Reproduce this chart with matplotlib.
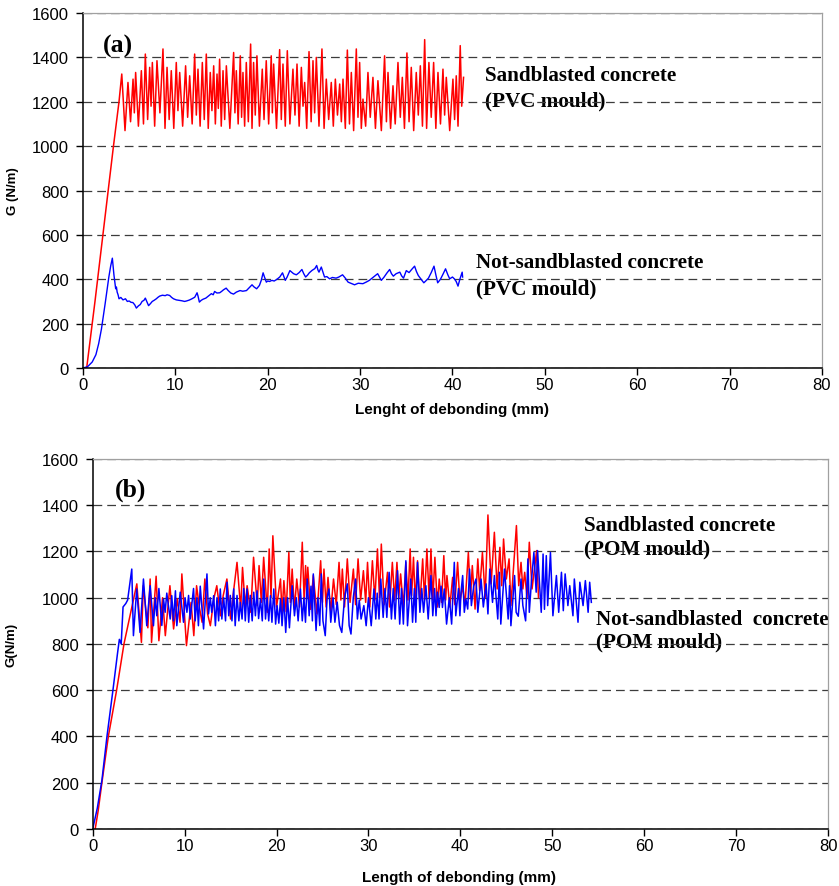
import matplotlib
matplotlib.use("Agg")
import matplotlib.pyplot as plt

plt.rcParams['font.family'] = ['Liberation Sans', 'DejaVu Sans']

# ---- (a) PVC mould ----
a_red_x = [
    0.4, 1.3, 2.3, 3.3, 3.9, 4.2,
    4.55, 4.87, 5.15, 5.42, 5.56, 5.70, 6.0, 6.32, 6.55, 6.75,
    7.0, 7.22, 7.37, 7.51, 7.76, 8.01, 8.33, 8.66, 8.88, 9.10,
    9.33, 9.56, 9.83, 10.10, 10.28, 10.47, 10.79, 11.11, 11.33, 11.55,
    11.82, 12.09, 12.27, 12.45, 12.68, 12.92, 13.13, 13.35, 13.56, 13.78,
    13.96, 14.15, 14.33, 14.51, 14.65, 14.79, 14.97, 15.16, 15.34, 15.52,
    15.9, 16.31, 16.45, 16.60, 16.8, 17.03, 17.17, 17.32, 17.5, 17.68,
    17.9, 18.15, 18.3, 18.47, 18.65, 18.83, 19.1, 19.41, 19.6, 19.84,
    20.1, 20.38, 20.5, 20.64, 20.95, 21.29, 21.47, 21.65, 21.9, 22.12,
    22.4, 22.73, 22.95, 23.17, 23.4, 23.64, 23.82, 24.0, 24.22, 24.47,
    24.7, 24.9, 25.08, 25.26, 25.55, 25.87, 26.1, 26.34, 26.6, 26.88,
    27.1, 27.32, 27.55, 27.79, 27.97, 28.15, 28.4, 28.62, 28.85, 29.05,
    29.3, 29.59, 29.77, 29.95, 30.13, 30.31, 30.6, 30.85, 31.1, 31.39,
    31.66, 31.93, 32.3, 32.65, 32.85, 33.02, 33.3, 33.56, 33.8, 34.1,
    34.35, 34.57, 34.8, 35.07, 35.3, 35.54, 35.8, 36.08, 36.3, 36.52,
    36.75, 36.99, 37.2, 37.45, 37.7, 37.96, 38.2, 38.43, 38.7, 38.97,
    39.15, 39.33, 39.7, 40.05, 40.23, 40.41, 40.6, 40.84, 41.0, 41.2]
a_red_y = [
    0, 300, 650, 1000, 1200, 1325,
    1070, 1287, 1110, 1302, 1150, 1332, 1090, 1340, 1100, 1415,
    1120, 1355, 1180, 1377, 1090, 1385, 1150, 1438, 1080, 1355,
    1120, 1340, 1080, 1377, 1160, 1332, 1090, 1362, 1130, 1317,
    1100, 1415, 1140, 1347, 1090, 1377, 1120, 1415, 1080, 1332,
    1160, 1362, 1100, 1325, 1170, 1392, 1090, 1340, 1120, 1362,
    1080, 1422, 1150, 1340, 1100, 1407, 1130, 1332, 1090, 1377,
    1110, 1460, 1080, 1377, 1140, 1407, 1090, 1347, 1120, 1385,
    1100, 1407, 1150, 1370, 1080, 1435, 1120, 1370, 1090, 1430,
    1100, 1347, 1140, 1370, 1090, 1355, 1180, 1287, 1080, 1426,
    1110, 1385, 1150, 1400, 1090, 1438, 1080, 1302, 1120, 1287,
    1090, 1302, 1140, 1280, 1110, 1302, 1080, 1433, 1100, 1332,
    1070, 1438, 1130, 1377, 1080, 1212, 1090, 1332, 1130, 1310,
    1080, 1295, 1070, 1407, 1110, 1332, 1080, 1272, 1100, 1377,
    1130, 1310, 1080, 1420, 1110, 1355, 1070, 1332, 1140, 1362,
    1090, 1480, 1080, 1377, 1130, 1377, 1080, 1332, 1100, 1347,
    1140, 1310, 1070, 1302, 1120, 1317, 1090, 1453, 1180, 1310]

a_blue_x = [
    0, 0.5, 1.0, 1.4, 1.7, 2.0, 2.4, 2.8, 3.0, 3.18,
    3.35, 3.54, 3.62, 3.7, 3.8, 3.9, 4.1, 4.33, 4.6, 4.8,
    5.0, 5.2, 5.4, 5.6, 5.78, 6.0, 6.2, 6.4, 6.6, 6.75,
    6.9, 7.1, 7.3, 7.5, 7.7, 7.94, 8.1, 8.3, 8.6, 8.9,
    9.1, 9.38, 9.6, 9.8, 10.1, 10.4, 10.7, 11.0, 11.2, 11.5,
    11.8, 12.1, 12.35, 12.45, 12.6, 12.8, 13.0, 13.3, 13.6, 13.9,
    14.1, 14.25, 14.5, 14.8, 15.0, 15.2, 15.5, 15.7, 16.0, 16.3,
    16.6, 17.0, 17.3, 17.7, 18.0, 18.3, 18.5, 18.8, 19.1, 19.3,
    19.5, 19.65, 19.85, 20.0, 20.2, 20.45, 20.7, 21.0, 21.3, 21.6,
    21.75, 21.9, 22.1, 22.4, 22.6, 22.8, 23.1, 23.4, 23.7, 23.9,
    24.1, 24.3, 24.5, 24.8, 25.1, 25.3, 25.45, 25.55, 25.8, 26.0,
    26.15, 26.4, 26.7, 27.0, 27.4, 27.7, 28.1, 28.4, 28.7, 29.0,
    29.4, 29.8, 30.3, 30.7, 31.0, 31.3, 31.6, 31.9, 32.1, 32.3,
    32.6, 32.9, 33.2, 33.4, 33.6, 33.9, 34.3, 34.5, 34.7, 35.0,
    35.3, 35.6, 35.9, 36.1, 36.3, 36.6, 36.9, 37.1, 37.4, 37.7,
    38.0, 38.2, 38.4, 38.7, 39.0, 39.25, 39.5, 39.7, 40.0, 40.2,
    40.4, 40.6, 40.8, 41.05, 41.1]
a_blue_y = [
    0, 6, 27, 60, 110, 176, 290, 410, 460, 495,
    420, 357, 365, 342, 330, 312, 318, 307, 312, 300,
    302, 296, 295, 285, 270, 280, 286, 300, 305, 315,
    300, 281, 290, 300, 305, 312, 318, 324, 328, 326,
    330, 327, 318, 312, 307, 305, 303, 300, 302, 306,
    312, 319, 339, 325, 297, 305, 310, 315, 325, 335,
    330, 345, 338, 339, 345, 352, 360, 350, 338, 333,
    342, 349, 346, 349, 362, 375, 366, 357, 372, 395,
    429, 410, 387, 392, 390, 395, 392, 400, 410, 429,
    412, 395, 410, 439, 432, 425, 420, 430, 444, 425,
    410, 418, 429, 440, 448, 462, 440, 432, 455, 430,
    410, 412, 402, 408, 405, 410, 420, 405, 387, 382,
    375, 382, 380, 388, 395, 405, 415, 425, 410, 395,
    410, 428, 444, 425, 414, 425, 432, 415, 405, 439,
    430, 445, 459, 435, 417, 400, 384, 392, 405, 430,
    459, 420, 384, 400, 425, 447, 420, 402, 410, 402,
    390, 369, 400, 432, 410]

# ---- (b) POM mould ----
b_red_x = [
    0.27, 0.6, 1.0, 1.7, 2.6, 3.4, 4.1, 4.8,
    5.3, 5.5, 6.0, 6.25, 6.4, 6.9, 7.2, 7.6, 7.9, 8.4,
    8.8, 9.2, 9.5, 9.7, 10.2, 10.7, 11.0, 11.3, 11.6, 11.9,
    12.2, 12.5, 12.8, 13.2, 13.5, 13.9, 14.2, 14.6, 15.0, 15.3,
    15.7, 16.1, 16.3, 16.6, 16.8, 17.2, 17.5, 17.9, 18.1, 18.35,
    18.6, 19.0, 19.2, 19.4, 19.6, 20.0, 20.43, 20.6, 20.8, 21.05,
    21.34, 21.5, 21.7, 21.95, 22.2, 22.5, 22.8, 23.0, 23.16, 23.3,
    23.4, 23.7, 24.0, 24.4, 24.8, 25.0, 25.16, 25.4, 25.6, 25.9,
    26.2, 26.5, 26.8, 27.0, 27.16, 27.4, 27.7, 28.0, 28.36, 28.6,
    28.87, 29.15, 29.45, 29.7, 29.9, 30.15, 30.43, 30.7, 30.98, 31.2,
    31.4, 31.7, 32.07, 32.3, 32.6, 32.85, 33.1, 33.3, 33.5, 33.8,
    34.07, 34.3, 34.54, 34.7, 34.9, 35.1, 35.34, 35.6, 35.9, 36.1,
    36.36, 36.6, 36.8, 37.0, 37.23, 37.5, 37.7, 37.95, 38.2, 38.4,
    38.54, 38.85, 39.16, 39.4, 39.7, 39.95, 40.25, 40.5, 40.87, 41.1,
    41.3, 41.6, 41.9, 42.1, 42.4, 42.7, 43.0, 43.35, 43.7, 44.0,
    44.3, 44.5, 44.7, 45.0, 45.3, 45.5, 46.1, 46.35, 46.6, 46.8,
    47.0, 47.25, 47.5, 47.8, 48.3, 48.5]
b_red_y = [
    0, 80, 200, 400, 600, 800, 930, 1060,
    807, 1052, 870, 1081, 807, 1093, 814, 1000, 836, 1052,
    865, 995, 894, 1103, 793, 980, 836, 1052, 960, 894,
    1081, 930, 879, 1000, 1052, 922, 1010, 1081, 908, 1020,
    1153, 951, 1131, 960, 1052, 937, 1175, 966, 1139, 980,
    1175, 937, 1211, 1000, 1268, 960, 1081, 930, 1074, 940,
    1196, 980, 1124, 950, 1081, 960, 1240, 990, 1139, 1000,
    1132, 950, 1096, 930, 1160, 980, 1124, 960, 1088, 940,
    1081, 970, 1153, 990, 1124, 960, 1168, 980, 1124, 970,
    1168, 990, 1117, 980, 1153, 960, 1160, 990, 1211, 1000,
    1232, 970, 1110, 960, 1153, 990, 1153, 1000, 1103, 960,
    1153, 990, 1211, 1010, 1175, 980, 1160, 970, 1168, 990,
    1211, 1000, 1211, 990, 1175, 960, 1081, 980, 1182, 990,
    1096, 960, 1088, 970, 1153, 980, 1052, 966, 1196, 1000,
    1139, 951, 1168, 1030, 1196, 1000, 1358, 1060, 1283, 1038,
    1218, 1052, 1254, 1081, 1168, 966, 1312, 1052, 1153, 1038,
    1110, 1000, 1240, 1038, 1204, 1000]

b_blue_x = [
    0, 0.5, 1.0, 1.55, 2.2, 2.7, 2.9, 3.1, 3.3, 3.6,
    3.8, 4.25, 4.43, 4.79, 5.15, 5.52, 5.88, 6.25, 6.61, 6.8,
    6.97, 7.2, 7.52, 7.7, 7.88, 8.06, 8.43, 8.6, 8.79, 9.0,
    9.15, 9.52, 9.88, 10.05, 10.25, 10.43, 10.61, 10.97, 11.15, 11.34,
    11.5, 11.7, 12.06, 12.43, 12.6, 12.79, 12.95, 13.16, 13.35, 13.52,
    13.7, 13.88, 14.05, 14.25, 14.45, 14.61, 14.8, 14.97, 15.15, 15.34,
    15.5, 15.7, 15.9, 16.06, 16.25, 16.43, 16.6, 16.79, 16.97, 17.15,
    17.35, 17.52, 17.7, 17.88, 18.05, 18.25, 18.45, 18.61, 18.8, 18.97,
    19.15, 19.34, 19.5, 19.7, 19.9, 20.06, 20.25, 20.43, 20.6, 20.8,
    21.0, 21.2, 21.4, 21.7, 21.95, 22.15, 22.35, 22.6, 22.8, 22.98,
    23.15, 23.34, 23.55, 23.75, 23.9, 24.0, 24.3, 24.5, 24.7, 24.87,
    25.05, 25.3, 25.5, 25.7, 25.9, 26.15, 26.35, 26.6, 26.85, 27.1,
    27.4, 27.7, 27.9, 28.1, 28.35, 28.6, 28.8, 29.0, 29.2, 29.5,
    29.75, 30.0, 30.3, 30.6, 30.8, 30.95, 31.15, 31.34, 31.6, 31.8,
    32.0, 32.25, 32.5, 32.7, 32.9, 33.16, 33.4, 33.6, 33.8, 34.07,
    34.25, 34.6, 34.8, 35.0, 35.15, 35.34, 35.6, 35.8, 36.0, 36.25,
    36.5, 36.8, 37.0, 37.2, 37.35, 37.5, 37.7, 37.9, 38.05, 38.25,
    38.5, 38.8, 39.05, 39.34, 39.5, 39.8, 39.95, 40.07, 40.25, 40.43,
    40.6, 40.8, 41.0, 41.2, 41.45, 41.7, 41.9, 42.25, 42.5, 42.8,
    43.0, 43.2, 43.5, 43.7, 44.07, 44.25, 44.4, 44.8, 45.2, 45.35,
    45.5, 45.9, 46.07, 46.3, 46.6, 46.8, 47.1, 47.35, 47.5, 47.75,
    48.0, 48.25, 48.4, 48.8, 49.0, 49.15, 49.35, 49.5, 49.8, 50.07,
    50.45, 50.7, 51.0, 51.2, 51.4, 51.7, 51.9, 52.25, 52.4, 52.8,
    53.0, 53.35, 53.6, 53.9, 54.07, 54.25]
b_blue_y = [
    0, 90, 210, 400, 600, 760, 820, 800, 960, 975,
    990, 1124, 836, 1038, 850, 1081, 879, 1052, 879, 1000,
    922, 1040, 880, 995, 937, 1020, 908, 1009, 900, 1030,
    879, 1024, 894, 1000, 937, 1010, 908, 1040, 900, 1000,
    879, 1050, 865, 1103, 930, 1000, 937, 1009, 879, 1000,
    900, 1038, 908, 1000, 900, 1067, 922, 1010, 900, 1038,
    879, 1010, 900, 980, 908, 1040, 900, 1038, 894, 1010,
    900, 1024, 922, 1030, 910, 995, 900, 1081, 908, 1000,
    900, 1009, 894, 1038, 886, 966, 890, 995, 879, 1000,
    850, 1000, 870, 1052, 922, 1000, 900, 1038, 900, 1000,
    894, 1081, 922, 1050, 900, 1103, 858, 1000, 880, 1103,
    900, 836, 1000, 1038, 894, 1000, 894, 981, 880, 850,
    1000, 1060, 880, 843, 1000, 1081, 908, 990, 908, 966,
    879, 1000, 879, 1038, 908, 1020, 908, 1081, 915, 1040,
    915, 1110, 908, 1040, 908, 1117, 886, 1040, 886, 1160,
    879, 1081, 894, 1040, 894, 1153, 937, 1040, 937, 1052,
    908, 1096, 922, 1040, 922, 1024, 958, 1050, 958, 1038,
    886, 1000, 886, 1153, 922, 1040, 922, 1024, 1096, 937,
    995, 951, 1124, 966, 1050, 1081, 937, 1081, 960, 1060,
    930, 1124, 980, 1096, 908, 1110, 886, 1124, 908, 1052,
    879, 1096, 937, 920, 1081, 966, 900, 1168, 937, 1080,
    1196, 1024, 1204, 937, 1189, 950, 1182, 966, 1196, 922,
    1096, 937, 1110, 944, 1103, 966, 1052, 922, 1081, 894,
    1067, 966, 1074, 937, 1067, 980]

x_ticks = [0, 10, 20, 30, 40, 50, 60, 70, 80]
y_ticks = [0, 200, 400, 600, 800, 1000, 1200, 1400, 1600]

W, H = 839, 887
serif = ['Liberation Serif', 'DejaVu Serif']
label_font = dict(family=serif, fontweight='bold', fontsize=15.2, zorder=1)


def style_axes(ax):
    ax.set_xlim(0, 80)
    ax.set_ylim(0, 1600)
    ax.set_xticks(x_ticks)
    ax.set_yticks(y_ticks)
    ax.yaxis.grid(True, linestyle=(0, (7, 4)), color='#3c3c3c', linewidth=0.9)
    ax.xaxis.grid(False)
    for side in ['top', 'right']:
        ax.spines[side].set_color('#a0a0a0')
        ax.spines[side].set_linewidth(0.9)
    for side in ['left', 'bottom']:
        ax.spines[side].set_color('black')
        ax.spines[side].set_linewidth(1.1)
    ax.tick_params(axis='both', direction='out', length=5, width=1.0, labelsize=12, colors='black')
    ax.tick_params(axis='x', pad=1.5)
    ax.tick_params(axis='y', pad=5)
    ax.tick_params(top=False, right=False)


fig = plt.figure(figsize=(W / 100, H / 100), dpi=100)

ax1 = fig.add_axes([0.0989, 0.5840, 0.8808, 0.4002])
ax1.plot(a_red_x, a_red_y, color='#ff0000', linewidth=1.1)
ax1.plot(a_blue_x, a_blue_y, color='#0000ff', linewidth=1.0)
style_axes(ax1)
ax1.text(2.1, 1456, '(a)', va='center', ha='left', family=serif, fontweight='bold', fontsize=18.5)
ax1.text(43.5, 1319, 'Sandblasted concrete', va='center', ha='left', **label_font)
ax1.text(43.5, 1207, '(PVC mould)', va='center', ha='left', **label_font)
ax1.text(42.6, 477, 'Not-sandblasted concrete', va='center', ha='left', **label_font)
ax1.text(42.6, 357, '(PVC mould)', va='center', ha='left', **label_font)
fig.text(13 / W, 1 - 191 / H, 'G (N/m)', rotation=90, ha='center', va='center',
         fontsize=9.5, fontweight='bold')
fig.text(452 / W, 1 - 410 / H, 'Lenght of debonding (mm)', ha='center', va='center',
         fontsize=11, fontweight='bold')

ax2 = fig.add_axes([0.1105, 0.0643, 0.8764, 0.4171])
ax2.plot(b_red_x, b_red_y, color='#ff0000', linewidth=1.1)
ax2.plot(b_blue_x, b_blue_y, color='#0000ff', linewidth=1.1)
style_axes(ax2)
ax2.text(2.4, 1470, '(b)', va='center', ha='left', family=serif, fontweight='bold', fontsize=18.5)
ax2.text(53.5, 1315, 'Sandblasted concrete', va='center', ha='left', **label_font)
ax2.text(53.5, 1211, '(POM mould)', va='center', ha='left', **label_font)
ax2.text(54.8, 908, 'Not-sandblasted  concrete', va='center', ha='left', **label_font)
ax2.text(54.8, 809, '(POM mould)', va='center', ha='left', **label_font)
fig.text(11 / W, 1 - 645 / H, 'G(N/m)', rotation=90, ha='center', va='center',
         fontsize=9.5, fontweight='bold')
fig.text(459 / W, 1 - 878 / H, 'Length of debonding (mm)', ha='center', va='center',
         fontsize=11, fontweight='bold')

fig.savefig('out.png', dpi=100)
